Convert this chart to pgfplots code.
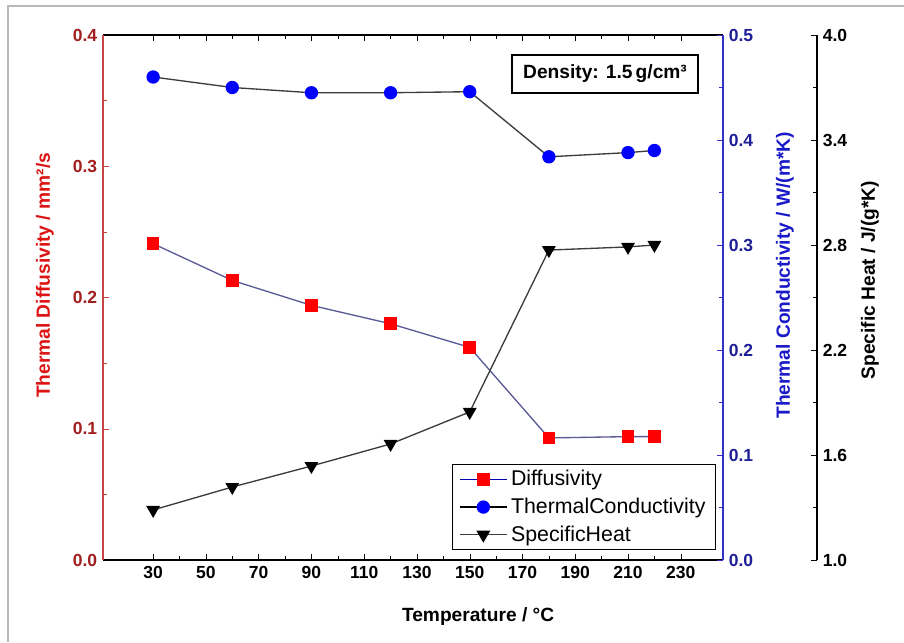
\documentclass[border=0pt]{standalone}
\usepackage{fontspec}
\setmainfont{Liberation Sans}
\usepackage{pgfplots}
\pgfplotsset{compat=1.18}

\definecolor{axred}{RGB}{200,70,70}
\definecolor{tkred}{RGB}{160,30,30}
\definecolor{lbred}{RGB}{220,20,20}
\definecolor{axblue}{RGB}{50,50,200}
\definecolor{tkblue}{RGB}{30,30,150}
\definecolor{lbblue}{RGB}{25,25,200}
\definecolor{lnblue}{RGB}{90,90,150}
\definecolor{lngray}{RGB}{60,60,60}

\tikzset{lbl/.style={font=\bfseries\fontsize{11.5}{13}\selectfont}}
\pgfplotsset{
  base/.style={
    scale only axis, width=372pt, height=315pt,
    xmin=11, xmax=246,
    tick align=inside, major tick length=3.5pt, minor tick length=2.5pt,
    /pgf/number format/assume math mode=true,
    tick label style={font=\bfseries\fontsize{10.5}{12}\selectfont},
    yticklabel style={/pgf/number format/fixed,/pgf/number format/fixed zerofill,/pgf/number format/precision=1},
    minor y tick num=1,
  },
  legend image code/.code={\draw[mark repeat=2,mark phase=2] plot coordinates {(0cm,0cm) (0.5cm,0cm) (1cm,0cm)};},
}

\begin{document}
\begin{tikzpicture}
\path[use as bounding box] (-61.8pt,-49.2pt) rectangle (480.6pt,336pt);
\draw[gray!55, line width=1pt] (-57pt,-49.2pt) -- (-57pt,332.4pt) -- (480.6pt,332.4pt);

% left axis: diffusivity
\begin{axis}[base,
  axis x line*=box, axis y line*=left,
  xtick={30,50,...,230}, minor x tick num=1,
  ymin=0, ymax=0.4, ytick={0,0.1,0.2,0.3,0.4},
  x axis line style={black, line width=1pt},
  y axis line style={axred, line width=1.3pt},
  y tick style={axred}, x tick style={black},
  yticklabel style={tkred},
  xlabel={Temperature / °C},
  ylabel={Thermal Diffusivity / mm²/s},
  every axis x label/.style={lbl, at={(axis description cs:0.605,-0.1086)}, anchor=center},
  every axis y label/.style={lbl, at={(axis description cs:-0.0935,0.542)}, anchor=center, rotate=90, lbred},
]
\addplot[lnblue, line width=0.8pt, mark=square*, mark size=3.4pt, mark options={solid, fill=red, draw=red}]
coordinates {(30,0.241) (60,0.213) (90,0.194) (120,0.180) (150,0.162) (180,0.093) (210,0.094) (220,0.094)};
\node[draw=black, line width=0.8pt, fill=white, font=\bfseries\fontsize{11.5}{13}\selectfont, minimum width=111.6pt, minimum height=22.8pt, inner sep=2pt]
  at (axis description cs:0.8097,0.9257) {Density: 1.5\,g/cm³};
\end{axis}

% middle axis: conductivity
\begin{axis}[base,
  axis x line=none, axis y line*=right,
  ymin=0, ymax=0.5, ytick={0,0.1,0.2,0.3,0.4,0.5},
  y axis line style={axblue, line width=1.3pt},
  y tick style={axblue},
  yticklabel style={tkblue},
  ylabel={Thermal Conductivity / W/(m*K)},
  every axis y label/.style={lbl, at={(axis description cs:1.1,0.542)}, anchor=center, rotate=90, lbblue},
]
\addplot[lngray, line width=0.8pt, mark=*, mark size=3.6pt, mark options={solid, fill=blue, draw=blue}]
coordinates {(30,0.460) (60,0.450) (90,0.445) (120,0.445) (150,0.446) (180,0.384) (210,0.388) (220,0.390)};
\end{axis}

% right axis: specific heat
\begin{axis}[base,
  axis x line=none, axis y line*=right,
  ymin=1, ymax=4, ytick={1.0,1.6,2.2,2.8,3.4,4.0},
  every outer y axis line/.append style={xshift=56.4pt},
  y tick style={xshift=56.4pt, black},
  yticklabel style={xshift=56.4pt, black},
  y axis line style={black, line width=1pt},
  ylabel={Specific Heat / J/(g*K)},
  every axis y label/.style={lbl, at={(axis description cs:1.237,0.533)}, anchor=center, rotate=90, black},
  legend style={at={(axis description cs:0.9887,0.019)}, anchor=south east, draw=black, line width=0.6pt,
    font=\fontsize{12.8}{15}\selectfont, row sep=1.8pt, inner xsep=4pt, inner ysep=1.5pt},
  legend cell align=left,
]
\addlegendimage{blue!70!black, line width=0.8pt, mark=square*, mark size=3.4pt, mark options={solid, fill=red, draw=red}}
\addlegendentry{Diffusivity}
\addlegendimage{black, line width=0.8pt, mark=*, mark size=3.6pt, mark options={solid, fill=blue, draw=blue}}
\addlegendentry{ThermalConductivity}
\addplot[lngray, line width=0.8pt, mark=triangle*, mark size=4pt, mark options={solid, rotate=180, fill=black, draw=black}]
coordinates {(30,1.286) (60,1.417) (90,1.537) (120,1.663) (150,1.846) (180,2.771) (210,2.789) (220,2.800)};
\addlegendentry{SpecificHeat}
\end{axis}
\end{tikzpicture}
\end{document}
